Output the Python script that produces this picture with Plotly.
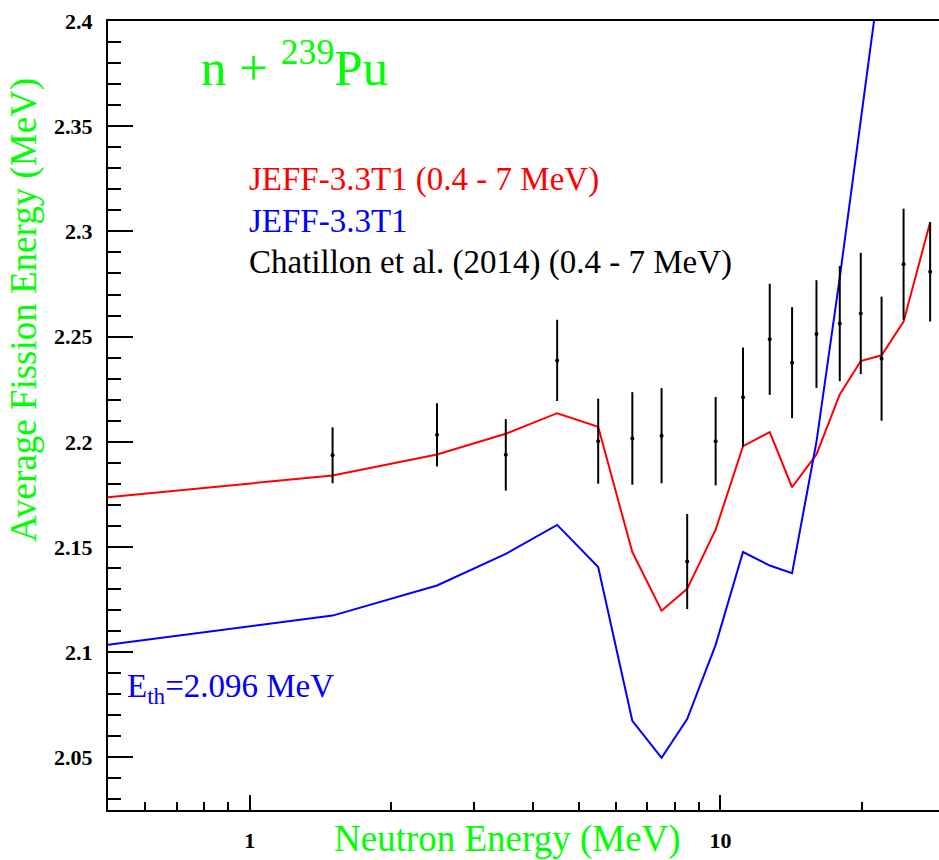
import plotly.graph_objects as go
import math

# ---- data ----
energy_model = [0.5, 1.5, 2.5, 3.5, 4.5, 5.5, 6.5, 7.5, 8.5, 9.77, 11.17, 12.73, 14.2, 16.0, 17.93, 19.87, 22.0, 24.5, 27.9]
jeff_0p4_7 = [2.1736, 2.184, 2.194, 2.2038, 2.2136, 2.2071, 2.1476, 2.1197, 2.1301, 2.1582, 2.1979, 2.2046, 2.1784, 2.194, 2.2225, 2.2384, 2.2411, 2.2571, 2.3043]
jeff_full = [2.1035, 2.1174, 2.1317, 2.1467, 2.1605, 2.1405, 2.0674, 2.0498, 2.0682, 2.1035, 2.1476, 2.1412, 2.1376, 2.200, 2.278, 2.350, 2.42, 2.50, 2.60]

energy_exp = [1.5, 2.5, 3.5, 4.5, 5.5, 6.5, 7.5, 8.5, 9.77, 11.17, 12.73, 14.2, 16.0, 17.93, 19.87, 22.0, 24.5, 27.9]
chatillon = [2.1936, 2.2033, 2.1938, 2.2387, 2.2003, 2.2016, 2.2029, 2.1431, 2.2003, 2.2212, 2.2487, 2.2376, 2.2512, 2.2562, 2.261, 2.2395, 2.2844, 2.2808]
chatillon_err = [0.0133, 0.015, 0.017, 0.0193, 0.0202, 0.022, 0.0226, 0.0226, 0.021, 0.0236, 0.0264, 0.0264, 0.0256, 0.0274, 0.0288, 0.0295, 0.0264, 0.0236]

x_major_ticks = [1, 10]
x_major_labels = ["1", "10"]
x_minor_ticks = [0.6, 0.7, 0.8, 0.9, 2, 3, 4, 5, 6, 7, 8, 9, 20]

W, H = 939, 860
L, R, T, B = 108, 0, 21, 50
PW, PH = W - L - R, H - T - B

def px(x):
    return (x - L) / PW

def py(y):
    return (H - B - y) / PH

GREEN = "#00ff00"
SERIF = "Liberation Serif, Times New Roman, serif"

fig = go.Figure()
fig.add_trace(go.Scatter(x=energy_model, y=jeff_0p4_7, mode="lines",
                         line=dict(color="#ff0000", width=2), showlegend=False))
fig.add_trace(go.Scatter(x=energy_model, y=jeff_full, mode="lines",
                         line=dict(color="#0000ff", width=2), showlegend=False))
fig.add_trace(go.Scatter(x=energy_exp, y=chatillon, mode="markers",
                         marker=dict(color="black", size=4),
                         error_y=dict(type="data", array=chatillon_err, visible=True,
                                      color="black", thickness=2, width=0),
                         showlegend=False))

fig.update_layout(
    width=W, height=H,
    margin=dict(l=L, r=R, t=T, b=B, pad=0),
    paper_bgcolor="white", plot_bgcolor="white",
    font=dict(family=SERIF),
    xaxis=dict(type="log", range=[math.log10(0.5), math.log10(0.5) + PW / 470.7],
               showgrid=False, zeroline=False,
               showline=True, linecolor="black", linewidth=2, mirror=True,
               ticks="inside", ticklen=15, tickwidth=2, tickcolor="black",
               tickmode="array", tickvals=x_major_ticks, ticktext=x_major_labels,
               tickfont=dict(family=SERIF, size=22, color="black", weight="bold"),
               ticklabelstandoff=10,
               minor=dict(ticks="inside", ticklen=8, tickwidth=2, tickcolor="black",
                          tickmode="array", tickvals=x_minor_ticks, showgrid=False)),
    yaxis=dict(range=[2.025, 2.4], showgrid=False, zeroline=False,
               showline=True, linecolor="black", linewidth=2, mirror=False,
               ticks="inside", ticklen=25, tickwidth=2, tickcolor="black",
               tickmode="linear", tick0=2.0, dtick=0.05,
               tickfont=dict(family=SERIF, size=22, color="black", weight="bold"),
               ticklabelstandoff=9,
               minor=dict(ticks="inside", ticklen=13, tickwidth=2, tickcolor="black",
                          tick0=2.0, dtick=0.01, showgrid=False)),
)

annots = [
    dict(text="n + <sup>239</sup>Pu", x=px(200), y=py(64), xanchor="left", yanchor="middle",
         font=dict(size=51, color=GREEN, family=SERIF)),
    dict(text="JEFF-3.3T1 (0.4 - 7 MeV)", x=px(248), y=py(179), xanchor="left", yanchor="middle",
         font=dict(size=33, color="#ff0000", family=SERIF)),
    dict(text="JEFF-3.3T1", x=px(248), y=py(221), xanchor="left", yanchor="middle",
         font=dict(size=33, color="#0000ff", family=SERIF)),
    dict(text="Chatillon et al. (2014) (0.4 - 7 MeV)", x=px(248), y=py(262), xanchor="left", yanchor="middle",
         font=dict(size=33, color="black", family=SERIF)),
    dict(text="E<sub>th</sub>=2.096 MeV", x=px(126), y=py(688), xanchor="left", yanchor="middle",
         font=dict(size=33, color="#0000ff", family=SERIF)),
    dict(text="Neutron Energy (MeV)", x=px(507), y=py(839), xanchor="center", yanchor="middle",
         font=dict(size=37, color=GREEN, family=SERIF)),
    dict(text="Average Fission Energy (MeV)", x=px(24), y=py(310), xanchor="center", yanchor="middle",
         textangle=-90, font=dict(size=37, color=GREEN, family=SERIF)),
]
for a in annots:
    a.update(xref="paper", yref="paper", showarrow=False, borderpad=0)
fig.update_layout(annotations=annots)

fig.write_html("out.html", config={"displayModeBar": False},
               post_script="document.body.style.margin='0';document.body.style.overflow='hidden';")
